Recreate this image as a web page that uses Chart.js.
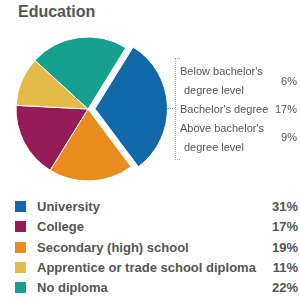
<!DOCTYPE html>
<html>
<head>
<meta charset="utf-8">
<script src="https://cdn.jsdelivr.net/npm/chart.js@4"></script>
<style>
  body { margin: 0; width: 300px; height: 300px; background: #fff; font-family: "Liberation Sans", Arial, sans-serif; color: #555; position: relative; overflow: hidden; }
  #title { position: absolute; left: 18px; top: 3px; font-size: 16px; font-weight: bold; color: #555; }
  #pieBox { position: absolute; left: 0; top: 19px; width: 176px; height: 180px; }
  #bracket { position: absolute; left: 175px; top: 58px; width: 4px; height: 100px; border: 1px dotted #aaa; border-right: none; }
  #tick { position: absolute; left: 167px; top: 108px; width: 8px; border-top: 1px dotted #aaa; }
  .sub { position: absolute; font-size: 11px; color: #555; white-space: nowrap; line-height: 12px; }
  .subv { position: absolute; right: 3px; font-size: 11px; color: #555; line-height: 12px; }
  .row { position: absolute; left: 0; width: 300px; height: 20px; }
  .sq { position: absolute; left: 15px; top: 0; width: 11px; height: 11px; }
  .lab { position: absolute; left: 37px; top: -2px; font-size: 13px; font-weight: bold; color: #555; white-space: nowrap; line-height: 15px; }
  .val { position: absolute; right: 2px; top: -2px; font-size: 13px; font-weight: bold; color: #555; line-height: 15px; }
</style>
</head>
<body>
<div id="title">Education</div>
<div id="pieBox"><canvas id="pie"></canvas></div>
<div id="bracket"></div>
<div id="tick"></div>
<div id="sublist"></div>
<div id="legend"></div>
<script>
// legend order
const labels = ['University', 'College', 'Secondary (high) school', 'Apprentice or trade school diploma', 'No diploma'];
const values = [31, 17, 19, 11, 22];
const colors = ['#1169a9', '#951b57', '#e98b1d', '#e4ba48', '#16a08e'];
// order of the slices clockwise, starting with University
const pieOrder = [0, 2, 1, 3, 4];

// University breakdown
const subLabels = [["Below bachelor's", "degree level"], ["Bachelor's degree"], ["Above bachelor's", "degree level"]];
const subValues = [6, 17, 9];

// legend
const legend = document.getElementById('legend');
labels.forEach((lab, i) => {
  const row = document.createElement('div');
  row.className = 'row';
  row.style.top = (201 + i * 20.3) + 'px';
  row.innerHTML = `
    <div class="sq" style="background:${colors[i]}"></div>
    <div class="lab">${lab}</div>
    <div class="val">${values[i]}%</div>`;
  legend.appendChild(row);
});

// breakdown text
const sub = document.getElementById('sublist');
const lineY = [[65, 84], [103], [122, 141]];
const valY = [75, 103, 131];
subLabels.forEach((lines, i) => {
  lines.forEach((t, j) => {
    const d = document.createElement('div');
    d.className = 'sub';
    d.style.left = (j === 0 ? 180 : 184) + 'px';
    d.style.top = lineY[i][j] + 'px';
    d.textContent = t;
    sub.appendChild(d);
  });
  const v = document.createElement('div');
  v.className = 'subv';
  v.style.top = valY[i] + 'px';
  v.textContent = subValues[i] + '%';
  sub.appendChild(v);
});

// pie
const ctx = document.getElementById('pie').getContext('2d');
new Chart(ctx, {
  type: 'pie',
  data: {
    labels: pieOrder.map(i => labels[i]),
    datasets: [{
      data: pieOrder.map(i => values[i]),
      backgroundColor: pieOrder.map(i => colors[i]),
      borderColor: '#fff',
      borderWidth: 1,
      // chart.js moves an arc by about offset/4
      offset: pieOrder.map(i => i === 0 ? 28 : 0)
    }]
  },
  options: {
    responsive: true,
    maintainAspectRatio: false,
    animation: false,
    rotation: 31.7,
    radius: 72,
    layout: { padding: 0 },
    plugins: {
      legend: { display: false },
      tooltip: { enabled: false }
    }
  }
});
</script>
</body>
</html>
